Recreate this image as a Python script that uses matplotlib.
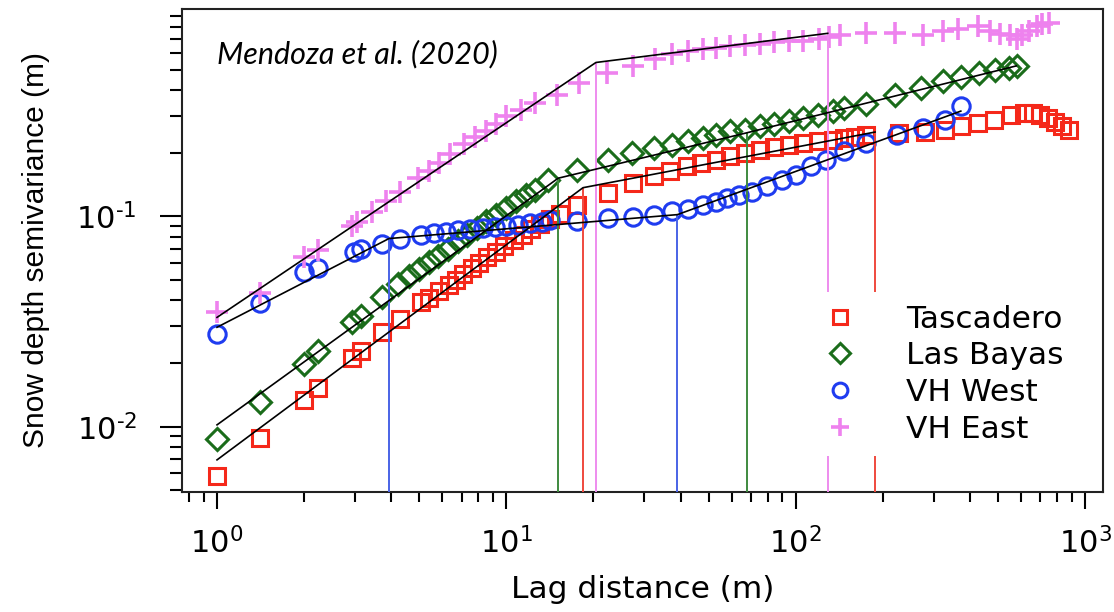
import matplotlib
matplotlib.use("Agg")
from matplotlib import pyplot as plt
from matplotlib.lines import Line2D
from matplotlib.ticker import LogLocator, NullFormatter, FuncFormatter
import numpy as np

# ---- semivariogram points (lag in m, semivariance in m) ----
tasc_x = [1, 1.41, 2, 2.24, 2.92, 3.14, 3.72, 4.29, 5.08, 5.4, 5.83, 6.32, 6.71, 7.07, 7.62,
          8.06, 8.6, 9.22, 9.85, 10.6, 11.4, 12.2, 13.1, 14.1, 15.3, 17.5, 22.4, 27.5, 32.3,
          36.8, 42, 47.1, 53, 59.5, 67, 75, 84, 94.6, 106, 119.6, 134, 147, 160, 175, 228,
          279, 328, 373, 426, 485, 554, 613, 660, 700, 742, 786, 833, 883]
tasc_y = [0.0058, 0.0088, 0.0134, 0.0153, 0.0211, 0.0229, 0.0282, 0.0325, 0.0392, 0.041, 0.044,
          0.047, 0.05, 0.053, 0.057, 0.06, 0.064, 0.068, 0.072, 0.077, 0.082, 0.087, 0.092,
          0.097, 0.103, 0.113, 0.129, 0.144, 0.155, 0.164, 0.173, 0.179, 0.185, 0.193, 0.2,
          0.207, 0.213, 0.219, 0.223, 0.229, 0.23, 0.236, 0.24, 0.245, 0.249, 0.253, 0.259,
          0.268, 0.279, 0.289, 0.305, 0.311, 0.311, 0.305, 0.294, 0.282, 0.268, 0.259]

bayas_x = [1, 1.41, 2, 2.24, 2.92, 3.14, 3.72, 4.22, 4.6, 5.0, 5.4, 5.8, 6.3, 6.8, 7.3, 7.9,
           8.5, 9.2, 10, 10.8, 11.7, 12.6, 13.9, 17.5, 22.4, 27.1, 32.3, 37.3, 42.4, 47.9, 53,
           59.5, 67, 75, 84, 94.6, 106, 119.6, 134, 147, 175, 220, 270, 322, 372, 430, 490,
           545, 584]
bayas_y = [0.0087, 0.0131, 0.0198, 0.0229, 0.0313, 0.0337, 0.0413, 0.0478, 0.052, 0.056, 0.061,
           0.065, 0.07, 0.076, 0.082, 0.088, 0.095, 0.102, 0.11, 0.118, 0.126, 0.134, 0.149,
           0.167, 0.186, 0.2, 0.211, 0.219, 0.228, 0.236, 0.245, 0.254, 0.259, 0.268, 0.275,
           0.284, 0.294, 0.305, 0.316, 0.328, 0.341, 0.38, 0.409, 0.441, 0.463, 0.483, 0.50,
           0.51, 0.52]

west_x = [1, 1.41, 2, 2.24, 2.97, 3.14, 3.72, 4.29, 5.08, 5.6, 6.2, 6.8, 7.5, 8.3, 9.1, 10,
          11, 12.1, 13.3, 14.2, 17.5, 22.4, 27.5, 32.3, 37.3, 42.4, 47.9, 53, 57.8, 63.9,
          70.7, 79.4, 89.4, 100.6, 113, 127, 147, 175, 223, 275, 328, 372]
west_y = [0.0276, 0.0388, 0.0543, 0.057, 0.0678, 0.0703, 0.0743, 0.0785, 0.0814, 0.083, 0.0845,
          0.086, 0.087, 0.088, 0.089, 0.09, 0.091, 0.093, 0.094, 0.096, 0.095, 0.098, 0.0997,
          0.102, 0.106, 0.109, 0.113, 0.117, 0.122, 0.126, 0.131, 0.139, 0.149, 0.158, 0.173,
          0.186, 0.204, 0.223, 0.245, 0.264, 0.289, 0.335]

east_x = [1, 1.41, 2, 2.24, 2.92, 3.05, 3.42, 3.83, 4.3, 4.95, 5.4, 5.85, 6.4, 7.14, 7.8, 8.5,
          9.2, 10, 11.2, 12.6, 15, 17.8, 22.2, 27.5, 32.7, 37.3, 42.4, 47.9, 53, 59.5, 67, 75,
          84, 95, 106, 120, 130, 142, 175, 220, 275, 322, 365, 428, 470, 509, 551, 581, 604,
          638, 682, 709, 748]
east_y = [0.035, 0.0433, 0.064, 0.069, 0.09, 0.0944, 0.105, 0.118, 0.13, 0.152, 0.165, 0.18,
          0.198, 0.22, 0.238, 0.255, 0.275, 0.3, 0.322, 0.345, 0.38, 0.432, 0.483, 0.52, 0.56,
          0.59, 0.614, 0.625, 0.636, 0.645, 0.654, 0.66, 0.673, 0.68, 0.686, 0.698, 0.716,
          0.733, 0.743, 0.743, 0.733, 0.766, 0.778, 0.809, 0.766, 0.738, 0.73, 0.698, 0.73,
          0.766, 0.809, 0.822, 0.836]

# ---- piecewise power-law fits: breakpoints (first and last are the fit ends) ----
tasc_fit_x = [1, 18.4, 188]
tasc_fit_y = [0.00695, 0.137, 0.252]
bayas_fit_x = [1, 15.1, 67.8, 578]
bayas_fit_y = [0.0102, 0.152, 0.25, 0.52]
west_fit_x = [1, 3.93, 39, 372]
west_fit_y = [0.0297, 0.0785, 0.102, 0.317]
east_fit_x = [1, 20.4, 129]
east_fit_y = [0.0331, 0.54, 0.743]

# scale breaks drawn as vertical lines (index into the fit arrays)
tasc_breaks = [1, 2]
bayas_breaks = [1, 2]
west_breaks = [1, 2]
east_breaks = [1, 2]

names = ["Tascadero", "Las Bayas", "VH West", "VH East"]
colors = ["#f5281a", "#1a6c1a", "#1f3cf0", "#ee82ee"]
vcolors = ["#ef4a3e", "#3f8a3f", "#4a63e6", "#ee8cee"]
markers = ["s", "D", "o", "+"]
msizes = [11.5, 11.5, 12.5, 15.5]
medges = [2.2, 2.2, 2.2, 2.6]

YMIN, YMAX = 0.00489, 0.97
XMIN, XMAX = 0.757, 1154

plt.rcParams["font.family"] = "DejaVu Sans"
plt.rcParams["mathtext.fontset"] = "dejavusans"


def pow10_label(v, pos):
    # 10^n with a short hyphen for negative exponents
    e = int(round(np.log10(v)))
    return r"$\mathdefault{10^{%s}}$" % str(e).replace("-", "\u2010")


fig = plt.figure(figsize=(11.14, 6.12), dpi=100)
ax = fig.add_axes([0.1634, 0.1961, 0.8268, 0.7892])
ax.set_xscale("log")
ax.set_yscale("log")
ax.set_xlim(XMIN, XMAX)
ax.set_ylim(YMIN, YMAX)

sites = [
    (tasc_x, tasc_y, tasc_fit_x, tasc_fit_y, tasc_breaks),
    (bayas_x, bayas_y, bayas_fit_x, bayas_fit_y, bayas_breaks),
    (west_x, west_y, west_fit_x, west_fit_y, west_breaks),
    (east_x, east_y, east_fit_x, east_fit_y, east_breaks),
]

handles = []
for i, (xs, ys, fx, fy, brk) in enumerate(sites):
    mk = markers[i]
    ax.plot(xs, ys, linestyle="none", marker=mk, markersize=msizes[i],
            markerfacecolor="none", markeredgecolor=colors[i],
            markeredgewidth=medges[i], zorder=3)
    for b in brk:
        ax.vlines(fx[b], YMIN, fy[b], colors=vcolors[i], linewidth=1.4, zorder=4)
    handles.append(Line2D([], [], linestyle="none", marker=mk, markersize=msizes[i] * 0.85,
                          markerfacecolor="none", markeredgecolor=colors[i],
                          markeredgewidth=medges[i]))

for xs, ys, fx, fy, brk in sites:
    ax.plot(fx, fy, color="black", linewidth=1.2, zorder=5)

ax.text(0.038, 0.888, "Mendoza et al. (2020)", transform=ax.transAxes,
        fontsize=22, family="Lato", style="italic", va="baseline", ha="left")

leg = ax.legend(handles, names, loc="upper left", bbox_to_anchor=(0.684, 0.414),
                fontsize=22.5, frameon=True, fancybox=False, edgecolor="none",
                facecolor="white", framealpha=1, borderpad=0.4, handlelength=1.0,
                handletextpad=1.6, labelspacing=0.25, borderaxespad=0)
leg.set_zorder(6)

# axes, ticks and labels
for s in ax.spines.values():
    s.set_linewidth(1.5)
    s.set_color("#222222")

ax.xaxis.set_major_locator(LogLocator(base=10))
ax.xaxis.set_minor_locator(LogLocator(base=10, subs=range(2, 10)))
ax.yaxis.set_minor_locator(LogLocator(base=10, subs=range(2, 10)))
ax.xaxis.set_major_formatter(FuncFormatter(pow10_label))
ax.yaxis.set_major_formatter(FuncFormatter(pow10_label))
ax.xaxis.set_minor_formatter(NullFormatter())
ax.yaxis.set_minor_formatter(NullFormatter())
ax.tick_params(axis="x", which="major", direction="out", length=12.5, width=1.5,
               labelsize=22, pad=12.5)
ax.tick_params(axis="x", which="minor", direction="out", length=7.5, width=1.5)
ax.tick_params(axis="y", which="major", direction="out", length=16, width=1.5,
               labelsize=22, pad=16.5)
ax.tick_params(axis="y", which="minor", direction="out", length=8.5, width=1.5)

ax.set_xlabel("Lag distance (m)", fontsize=22.5)
ax.set_ylabel("Snow depth semivariance (m)", fontsize=21.5, family="Liberation Sans")
ax.xaxis.set_label_coords(0.5, -0.172)
ax.yaxis.set_label_coords(-0.1433, 0.5)

fig.savefig("out.png", dpi=100)
